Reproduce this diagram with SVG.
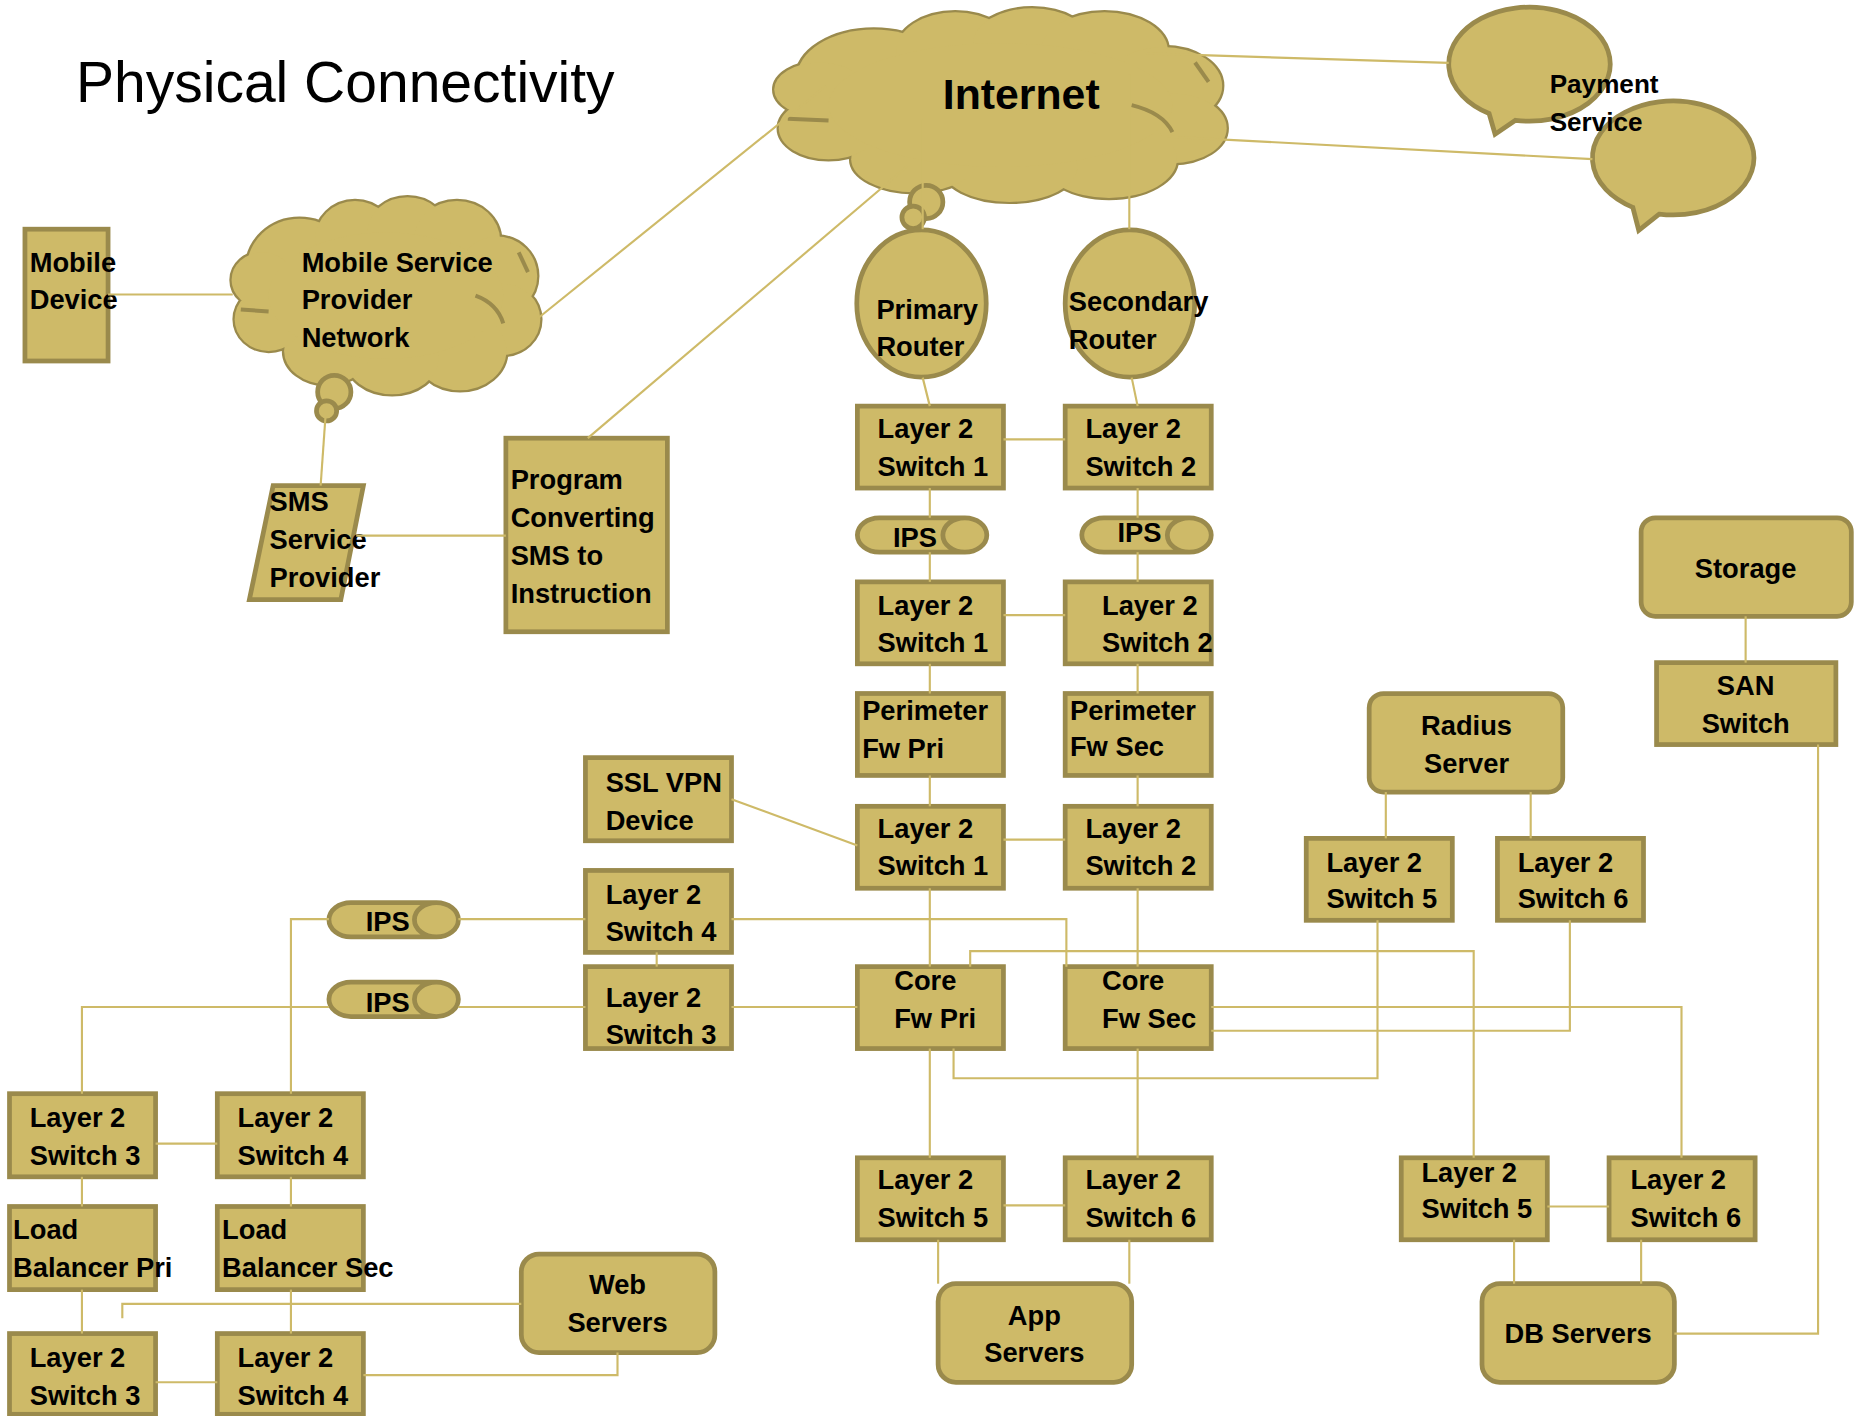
<svg xmlns="http://www.w3.org/2000/svg" width="1862" height="1416" viewBox="0 0 1862 1416">
<style>
.n{fill:#CEBA68;stroke:#9A8A4C;stroke-width:4}
.k{fill:none;stroke:#CEBA68;stroke-width:1.8}
.t{font-family:"Liberation Sans",Arial,sans-serif;font-weight:bold;font-size:23px;fill:#000}
.m{text-anchor:middle}
.cs{fill:#CEBA68;stroke:#9A8A4C;stroke-width:4.5}
.cf{fill:#CEBA68;stroke:none}
.ca{fill:none;stroke:#9A8A4C;stroke-width:4}
</style>
<defs>
<g id="lobes">
<ellipse cx="22" cy="36" rx="17" ry="25" vector-effect="non-scaling-stroke"/>
<ellipse cx="40" cy="22" rx="13" ry="20" vector-effect="non-scaling-stroke"/>
<ellipse cx="57" cy="18" rx="13" ry="18" vector-effect="non-scaling-stroke"/>
<ellipse cx="73" cy="22" rx="14" ry="20" vector-effect="non-scaling-stroke"/>
<ellipse cx="86" cy="40" rx="13" ry="20" vector-effect="non-scaling-stroke"/>
<ellipse cx="88" cy="62" rx="12" ry="18" vector-effect="non-scaling-stroke"/>
<ellipse cx="74" cy="78" rx="15" ry="20" vector-effect="non-scaling-stroke"/>
<ellipse cx="52" cy="82" rx="15" ry="18" vector-effect="non-scaling-stroke"/>
<ellipse cx="31" cy="78" rx="14" ry="17" vector-effect="non-scaling-stroke"/>
<ellipse cx="12" cy="62" rx="11" ry="16" vector-effect="non-scaling-stroke"/>
<ellipse cx="10" cy="42" rx="10" ry="14" vector-effect="non-scaling-stroke"/>
<ellipse cx="50" cy="50" rx="38" ry="32" vector-effect="non-scaling-stroke"/>
</g>
<g id="cloudArcs">
<path d="M3,57 L12,58" vector-effect="non-scaling-stroke"/>
<path d="M79,50 Q86,54 88,64" vector-effect="non-scaling-stroke"/>
<path d="M93,28 L96,38" vector-effect="non-scaling-stroke"/>
</g>
<path id="can" d="M18.5,0 H90.5 A18.5 14.5 0 0 1 90.5,29 H18.5 A18.5 14.5 0 0 1 18.5,0 Z M109,14.5 A18.5 14.5 0 0 1 72,14.5 A18.5 14.5 0 0 1 109,14.5 Z"/>
</defs>
<rect x="0" y="0" width="1862" height="1416" fill="#FFFFFF"/>
<g transform="scale(1.1875)">
<text id="title" x="64" y="86" style="font-family:'Liberation Sans',Arial,sans-serif;font-size:48px;fill:#000">Physical Connectivity</text>

<g id="nodes">
<g id="mobile-device"><rect class="n" x="21" y="193" width="70" height="111"/><text class="t" x="25" y="229">Mobile</text><text class="t" x="25" y="260">Device</text></g>

<g id="mobile-service-provider-network">
<g transform="translate(195,166) scale(2.6,1.66)"><use href="#lobes" class="cs"/><use href="#lobes" class="cf"/><use href="#cloudArcs" class="ca"/></g>
<circle class="n" cx="281.5" cy="330" r="14"/><circle class="n" cx="275" cy="346" r="8.5"/>
<text class="t" x="254" y="229">Mobile Service</text><text class="t" x="254" y="260">Provider</text><text class="t" x="254" y="292">Network</text></g>

<g id="sms-service-provider"><polygon class="n" points="230,409 306,409 287,505 210,505"/><text class="t" x="227" y="430">SMS</text><text class="t" x="227" y="462">Service</text><text class="t" x="227" y="494">Provider</text></g>

<g id="program"><rect class="n" x="426" y="369" width="136" height="163"/><text class="t" x="430" y="412">Program</text><text class="t" x="430" y="444">Converting</text><text class="t" x="430" y="476">SMS to</text><text class="t" x="430" y="508">Instruction</text></g>

<g id="internet">
<g transform="translate(652,7) scale(3.81,1.63)"><use href="#lobes" class="cs"/><use href="#lobes" class="cf"/><use href="#cloudArcs" class="ca"/></g>
<circle class="n" cx="780" cy="170" r="14"/><circle class="n" cx="769" cy="183" r="9.5"/>
<text class="t m" x="860" y="92" style="font-size:36px">Internet</text></g>

<g id="payment-service">
<path class="n" d="M1276.2,101.3 L1259,113 L1254,95.6 A68 48 0 1 1 1276.2,101.3 Z"/>
<path class="n" d="M1397.2,180.3 L1380,194 L1375,174.6 A68 48 0 1 1 1397.2,180.3 Z"/>
<text class="t" x="1305" y="78" style="font-size:22px">Payment</text><text class="t" x="1305" y="110" style="font-size:22px">Service</text></g>

<g id="primary-router"><ellipse class="n" cx="776" cy="255.5" rx="54.5" ry="62"/><text class="t" x="738" y="269">Primary</text><text class="t" x="738" y="300">Router</text></g>
<g id="secondary-router"><ellipse class="n" cx="951.5" cy="255.5" rx="54.5" ry="62"/><text class="t" x="900" y="262">Secondary</text><text class="t" x="900" y="294">Router</text></g>

<g id="l2-switch1-a"><rect class="n" x="722" y="342" width="123" height="69"/><text class="t" x="739" y="369">Layer 2</text><text class="t" x="739" y="401">Switch 1</text></g>
<g id="l2-switch2-a"><rect class="n" x="897" y="342" width="123" height="69"/><text class="t" x="914" y="369">Layer 2</text><text class="t" x="914" y="401">Switch 2</text></g>

<g id="ips-1"><use href="#can" class="n" x="722" y="436"/><text class="t" x="752" y="461">IPS</text></g>
<g id="ips-2"><use href="#can" class="n" x="911" y="436"/><text class="t" x="941" y="456">IPS</text></g>

<g id="l2-switch1-b"><rect class="n" x="722" y="490" width="123" height="69"/><text class="t" x="739" y="518">Layer 2</text><text class="t" x="739" y="549">Switch 1</text></g>
<g id="l2-switch2-b"><rect class="n" x="897" y="490" width="123" height="69"/><text class="t" x="928" y="518">Layer 2</text><text class="t" x="928" y="549">Switch 2</text></g>

<g id="perimeter-fw-pri"><rect class="n" x="722" y="584" width="123" height="69"/><text class="t" x="726" y="606">Perimeter</text><text class="t" x="726" y="638">Fw Pri</text></g>
<g id="perimeter-fw-sec"><rect class="n" x="897" y="584" width="123" height="69"/><text class="t" x="901" y="606">Perimeter</text><text class="t" x="901" y="637">Fw Sec</text></g>

<g id="l2-switch1-c"><rect class="n" x="722" y="679" width="123" height="69"/><text class="t" x="739" y="706">Layer 2</text><text class="t" x="739" y="737">Switch 1</text></g>
<g id="l2-switch2-c"><rect class="n" x="897" y="679" width="123" height="69"/><text class="t" x="914" y="706">Layer 2</text><text class="t" x="914" y="737">Switch 2</text></g>

<g id="ssl-vpn"><rect class="n" x="493" y="638" width="123" height="70"/><text class="t" x="510" y="667">SSL VPN</text><text class="t" x="510" y="699">Device</text></g>
<g id="l2-switch4-m"><rect class="n" x="493" y="733" width="123" height="69"/><text class="t" x="510" y="761">Layer 2</text><text class="t" x="510" y="792">Switch 4</text></g>
<g id="l2-switch3-m"><rect class="n" x="493" y="814" width="123" height="69"/><text class="t" x="510" y="848">Layer 2</text><text class="t" x="510" y="879">Switch 3</text></g>

<g id="ips-3"><use href="#can" class="n" x="277" y="760"/><text class="t" x="308" y="784">IPS</text></g>
<g id="ips-4"><use href="#can" class="n" x="277" y="827"/><text class="t" x="308" y="852">IPS</text></g>

<g id="core-fw-pri"><rect class="n" x="722" y="814" width="123" height="69"/><text class="t" x="753" y="834">Core</text><text class="t" x="753" y="866">Fw Pri</text></g>
<g id="core-fw-sec"><rect class="n" x="897" y="814" width="123" height="69"/><text class="t" x="928" y="834">Core</text><text class="t" x="928" y="866">Fw Sec</text></g>

<g id="radius-server"><rect class="n" x="1153" y="584" width="163" height="83" rx="12"/><text class="t m" x="1235" y="619">Radius</text><text class="t m" x="1235" y="651">Server</text></g>
<g id="storage"><rect class="n" x="1382" y="436" width="177" height="83" rx="12"/><text class="t m" x="1470" y="487">Storage</text></g>
<g id="san-switch"><rect class="n" x="1395" y="558" width="151" height="69"/><text class="t m" x="1470" y="585">SAN</text><text class="t m" x="1470" y="617">Switch</text></g>

<g id="l2-switch5-r"><rect class="n" x="1100" y="706" width="123" height="69"/><text class="t" x="1117" y="734">Layer 2</text><text class="t" x="1117" y="765">Switch 5</text></g>
<g id="l2-switch6-r"><rect class="n" x="1261" y="706" width="123" height="69"/><text class="t" x="1278" y="734">Layer 2</text><text class="t" x="1278" y="765">Switch 6</text></g>

<g id="l2-switch3-l"><rect class="n" x="8" y="921" width="123" height="70"/><text class="t" x="25" y="949">Layer 2</text><text class="t" x="25" y="981">Switch 3</text></g>
<g id="l2-switch4-l"><rect class="n" x="183" y="921" width="123" height="70"/><text class="t" x="200" y="949">Layer 2</text><text class="t" x="200" y="981">Switch 4</text></g>
<g id="lb-pri"><rect class="n" x="8" y="1016" width="123" height="70"/><text class="t" x="11" y="1043">Load</text><text class="t" x="11" y="1075">Balancer Pri</text></g>
<g id="lb-sec"><rect class="n" x="183" y="1016" width="123" height="70"/><text class="t" x="187" y="1043">Load</text><text class="t" x="187" y="1075">Balancer Sec</text></g>
<g id="l2-switch3-b"><rect class="n" x="8" y="1123" width="123" height="68"/><text class="t" x="25" y="1151">Layer 2</text><text class="t" x="25" y="1183">Switch 3</text></g>
<g id="l2-switch4-b"><rect class="n" x="183" y="1123" width="123" height="68"/><text class="t" x="200" y="1151">Layer 2</text><text class="t" x="200" y="1183">Switch 4</text></g>

<g id="web-servers"><rect class="n" x="439" y="1056" width="163" height="83" rx="15"/><text class="t m" x="520" y="1090">Web</text><text class="t m" x="520" y="1122">Servers</text></g>

<g id="l2-switch5-a"><rect class="n" x="722" y="975" width="123" height="69"/><text class="t" x="739" y="1001">Layer 2</text><text class="t" x="739" y="1033">Switch 5</text></g>
<g id="l2-switch6-a"><rect class="n" x="897" y="975" width="123" height="69"/><text class="t" x="914" y="1001">Layer 2</text><text class="t" x="914" y="1033">Switch 6</text></g>
<g id="app-servers"><rect class="n" x="790" y="1081" width="163" height="83" rx="15"/><text class="t m" x="871" y="1116">App</text><text class="t m" x="871" y="1147">Servers</text></g>

<g id="l2-switch5-d"><rect class="n" x="1180" y="975" width="123" height="69"/><text class="t" x="1197" y="995">Layer 2</text><text class="t" x="1197" y="1026">Switch 5</text></g>
<g id="l2-switch6-d"><rect class="n" x="1355" y="975" width="123" height="69"/><text class="t" x="1373" y="1001">Layer 2</text><text class="t" x="1373" y="1033">Switch 6</text></g>
<g id="db-servers"><rect class="n" x="1248" y="1081" width="162" height="83" rx="15"/><text class="t m" x="1329" y="1131">DB Servers</text></g>
</g>

<g id="connectors" class="k">
<path d="M91,248 H196"/>
<path d="M453,268 L696,72"/>
<path d="M274,352 L270,409"/>
<path d="M300,451 H426"/>
<path d="M495,369 L764,140"/>
<path d="M965,45 L1220,53"/>
<path d="M983,115 L1341,134"/>
<path d="M777,101 V193"/>
<path d="M951,63 V193"/>
<path d="M777,318 L783,342"/>
<path d="M953,318 L958,342"/>
<path d="M845,370 H897"/>
<path d="M783,411 V436"/>
<path d="M783,465 V490"/>
<path d="M958,411 V436"/>
<path d="M958,465 V490"/>
<path d="M845,518 H897"/>
<path d="M783,559 V584"/>
<path d="M958,559 V584"/>
<path d="M783,653 V679"/>
<path d="M958,653 V679"/>
<path d="M845,707 H897"/>
<path d="M616,673 L722,712"/>
<path d="M783,748 V814"/>
<path d="M958,748 V814"/>
<path d="M616,774 H898 V814"/>
<path d="M386,774 H493"/>
<path d="M277,774 H245 V921"/>
<path d="M553,802 V814"/>
<path d="M386,848 H493"/>
<path d="M616,848 H722"/>
<path d="M277,848 H69 V921"/>
<path d="M131,963 H183"/>
<path d="M69,991 V1016"/>
<path d="M69,1086 V1123"/>
<path d="M245,991 V1016"/>
<path d="M245,1086 V1123"/>
<path d="M131,1164 H183"/>
<path d="M439,1098 H103 V1110"/>
<path d="M520,1139 V1158 H306"/>
<path d="M783,883 V975"/>
<path d="M958,883 V975"/>
<path d="M845,1015 H897"/>
<path d="M790,1044 V1081"/>
<path d="M951,1044 V1081"/>
<path d="M803,883 V908 H1160 V775"/>
<path d="M1167,667 V706"/>
<path d="M1289,667 V706"/>
<path d="M817,814 V801 H1241 V975"/>
<path d="M1020,848 H1416 V975"/>
<path d="M1020,868 H1322 V775"/>
<path d="M1303,1016 H1355"/>
<path d="M1275,1044 V1081"/>
<path d="M1382,1044 V1081"/>
<path d="M1470,519 V558"/>
<path d="M1531,627 V1123 H1410"/>
</g>
</g>
</svg>
